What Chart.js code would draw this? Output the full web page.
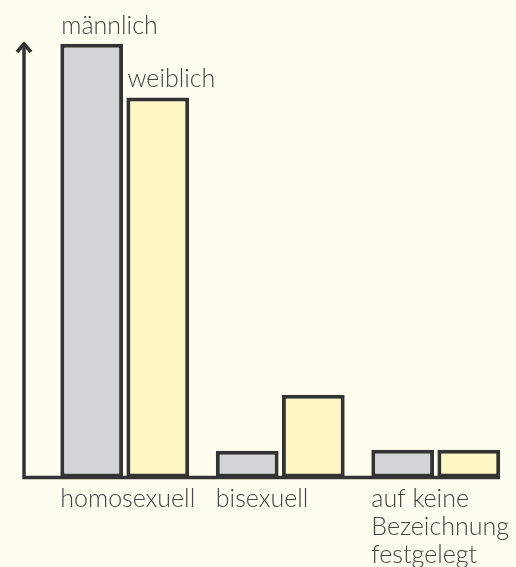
<!DOCTYPE html>
<html>
<head>
<meta charset="utf-8">
<script src="https://cdn.jsdelivr.net/npm/chart.js@4"></script>
<style>
  html, body { margin: 0; padding: 0; background: #fffdf0; }
  canvas { display: block; }
</style>
</head>
<body>
<canvas id="chart" width="516" height="567"></canvas>
<script>
// categories (multi-line labels) and values per gender
const categories = [['homosexuell'], ['bisexuell'], ['auf keine', 'Bezeichnung', 'festgelegt']];
const seriesNames = ['männlich', 'weiblich'];
const maleValues = [89, 5.5, 5.7];
const femaleValues = [78, 17, 5.7];

const textFont = '300 25px Lato, "Liberation Sans", sans-serif';
const textColor = '#444444';
const lineColor = '#333333';

// draws the arrow axis, category labels under the groups and series names above the first group
const axisAndLabels = {
  id: 'axisAndLabels',
  afterDatasetsDraw(chart) {
    const { ctx, chartArea, scales } = chart;
    const x0 = chartArea.left - 23;
    const y0 = scales.y.getPixelForValue(0);
    const top = chartArea.top;

    ctx.save();
    ctx.strokeStyle = lineColor;
    ctx.lineWidth = 3.5;
    ctx.lineCap = 'butt';
    ctx.beginPath();
    ctx.moveTo(x0, y0 + 1.75);
    ctx.lineTo(x0, top + 4);
    ctx.moveTo(x0 - 1.75, y0);
    ctx.lineTo(chartArea.right - 13.5, y0);
    ctx.stroke();

    ctx.beginPath();
    ctx.lineJoin = 'miter';
    ctx.moveTo(x0 - 7, top + 13);
    ctx.lineTo(x0, top + 5);
    ctx.lineTo(x0 + 7, top + 13);
    ctx.stroke();

    ctx.font = textFont;
    ctx.fillStyle = textColor;
    ctx.textAlign = 'left';
    ctx.textBaseline = 'alphabetic';

    const meta0 = chart.getDatasetMeta(0);
    categories.forEach((lines, i) => {
      const bar = meta0.data[i];
      const x = bar.x - bar.width / 2;
      lines.forEach((line, k) => ctx.fillText(line, x, y0 + 29 + k * 28.3));
    });

    seriesNames.forEach((name, d) => {
      const bar = chart.getDatasetMeta(d).data[0];
      ctx.fillText(name, bar.x - bar.width / 2 + 1, bar.y - 10);
    });
    ctx.restore();
  }
};

new Chart(document.getElementById('chart'), {
  type: 'bar',
  data: {
    labels: categories,
    datasets: [
      {
        label: seriesNames[0],
        data: maleValues,
        backgroundColor: '#d3d4d8',
        borderColor: lineColor,
        borderWidth: 4,
        borderSkipped: false
      },
      {
        label: seriesNames[1],
        data: femaleValues,
        backgroundColor: '#fdf8c3',
        borderColor: lineColor,
        borderWidth: 4,
        borderSkipped: false
      }
    ]
  },
  options: {
    responsive: false,
    animation: false,
    categoryPercentage: 0.85,
    barPercentage: 0.95,
    layout: { padding: { left: 47, right: 2.5, top: 39, bottom: 89.5 } },
    plugins: {
      legend: { display: false },
      tooltip: { enabled: false }
    },
    scales: {
      x: { display: false },
      y: { display: false, min: 0, max: 90 }
    }
  },
  plugins: [axisAndLabels]
});
</script>
</body>
</html>
